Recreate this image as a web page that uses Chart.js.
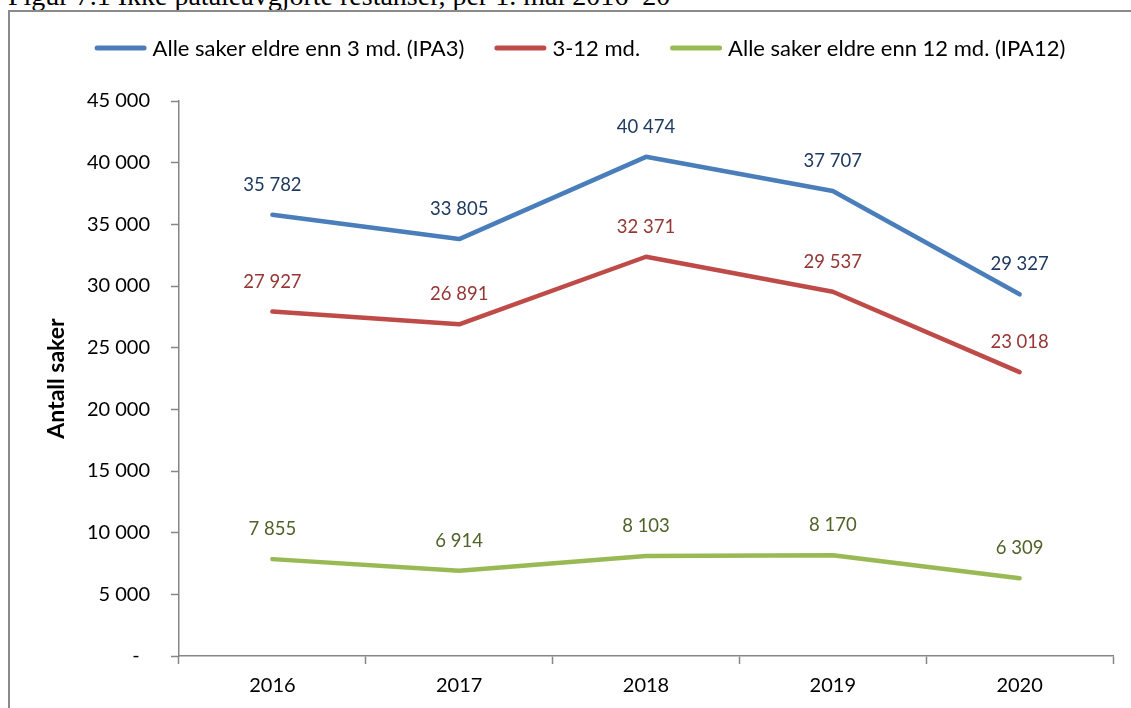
<!DOCTYPE html>
<html>
<head>
<meta charset="utf-8">
<script src="https://cdn.jsdelivr.net/npm/chart.js@4"></script>
<style>
  html, body { margin: 0; padding: 0; background: #fff; overflow: hidden; }
  #wrap { position: relative; width: 1131px; height: 708px; overflow: hidden; }
  #title { position: absolute; left: 8px; top: -18px; font-family: "Liberation Serif", "DejaVu Serif", serif; font-size: 28px; line-height: 28px; color: #000; white-space: nowrap; }
  #frame { position: absolute; left: 8px; top: 10px; width: 1140px; height: 720px; border: 2px solid #8a8a8a; box-sizing: border-box; }
  #c { position: absolute; left: 0; top: 0; }
</style>
</head>
<body>
<div id="wrap">
  <div id="title">Figur 7.1 Ikke påtaleavgjorte restanser, per 1. mai 2016–20</div>
  <div id="frame"></div>
  <canvas id="c" width="1131" height="708"></canvas>
</div>
<script>
const categories = ['2016', '2017', '2018', '2019', '2020'];
const ipa3 = [35782, 33805, 40474, 37707, 29327];
const mnd3to12 = [27927, 26891, 32371, 29537, 23018];
const ipa12 = [7855, 6914, 8103, 8170, 6309];
const seriesNames = ['Alle saker eldre enn 3 md. (IPA3)', '3-12 md.', 'Alle saker eldre enn 12 md. (IPA12)'];
const yMin = 0, yMax = 45000, yStep = 5000;

const FONT = 'Lato, "Open Sans", sans-serif';
const fmt = v => String(v).replace(/\B(?=(\d{3})+(?!\d))/g, ' ');

const lineColors = ['#4A7EBB', '#BE4B48', '#98B954'];
const labelColors = ['#1F3A60', '#953735', '#4F6228'];
const axisColor = '#868686';

const dataLabels = {
  id: 'dataLabels',
  afterDatasetsDraw(chart) {
    const ctx = chart.ctx;
    ctx.save();
    ctx.font = '18.5px ' + FONT;
    ctx.textAlign = 'center';
    ctx.textBaseline = 'middle';
    chart.data.datasets.forEach((ds, i) => {
      const meta = chart.getDatasetMeta(i);
      ctx.fillStyle = labelColors[i];
      meta.data.forEach((pt, j) => {
        ctx.fillText(fmt(ds.data[j]), pt.x, pt.y - 30);
      });
    });
    ctx.restore();
  }
};

const topLegend = {
  id: 'topLegend',
  afterDraw(chart) {
    const ctx = chart.ctx;
    const lineLen = 52, gapText = 6, gapItem = 30, cy = 48, cx = 580;
    ctx.save();
    ctx.font = '22px ' + FONT;
    const items = chart.data.datasets.map((ds, i) => ({ text: ds.label, color: ds.borderColor, w: ctx.measureText(ds.label).width }));
    let total = 0;
    items.forEach((it, i) => { total += lineLen + gapText + it.w + (i < items.length - 1 ? gapItem : 0); });
    let x = cx - total / 2;
    ctx.textBaseline = 'middle';
    ctx.textAlign = 'left';
    items.forEach(it => {
      ctx.strokeStyle = it.color;
      ctx.lineWidth = 5;
      ctx.lineCap = 'round';
      ctx.beginPath();
      ctx.moveTo(x + 2.5, cy);
      ctx.lineTo(x + lineLen - 2.5, cy);
      ctx.stroke();
      x += lineLen + gapText;
      ctx.fillStyle = '#000';
      ctx.fillText(it.text, x, cy + 1);
      x += it.w + gapItem;
    });
    ctx.restore();
  }
};

new Chart(document.getElementById('c'), {
  type: 'line',
  data: {
    labels: categories,
    datasets: [ipa3, mnd3to12, ipa12].map((d, i) => ({
      label: seriesNames[i],
      data: d,
      borderColor: lineColors[i],
      backgroundColor: lineColors[i],
      borderWidth: 4.5,
      pointRadius: 0,
      tension: 0,
      borderCapStyle: 'round',
      borderJoinStyle: 'round'
    }))
  },
  options: {
    responsive: false,
    animation: false,
    layout: { padding: { top: 101, right: 18, left: 0, bottom: 0 } },
    plugins: {
      legend: { display: false },
      tooltip: { enabled: false }
    },
    scales: {
      x: {
        offset: true,
        border: { color: axisColor, width: 1.5 },
        grid: { offset: true, drawOnChartArea: false, tickLength: 8, color: axisColor, tickWidth: 1.5 },
        ticks: { font: { family: FONT, size: 20 }, color: '#000', padding: 10 },
        afterFit(s) { s.height = 52; }
      },
      y: {
        min: yMin, max: yMax,
        border: { color: axisColor, width: 1.5 },
        grid: { drawOnChartArea: false, tickLength: 8, color: axisColor, tickWidth: 1.5 },
        ticks: {
          stepSize: yStep,
          font: { family: FONT, size: 20 },
          color: '#000',
          padding: 21,
          callback: v => v === 0 ? '-  ' : fmt(v)
        },
        title: { display: true, text: 'Antall saker', font: { family: FONT, size: 23, weight: 'bold' }, color: '#000', padding: { top: 43, bottom: 0 } },
        afterFit(s) { s.width = 179; }
      }
    }
  },
  plugins: [dataLabels, topLegend]
});
</script>
</body>
</html>
